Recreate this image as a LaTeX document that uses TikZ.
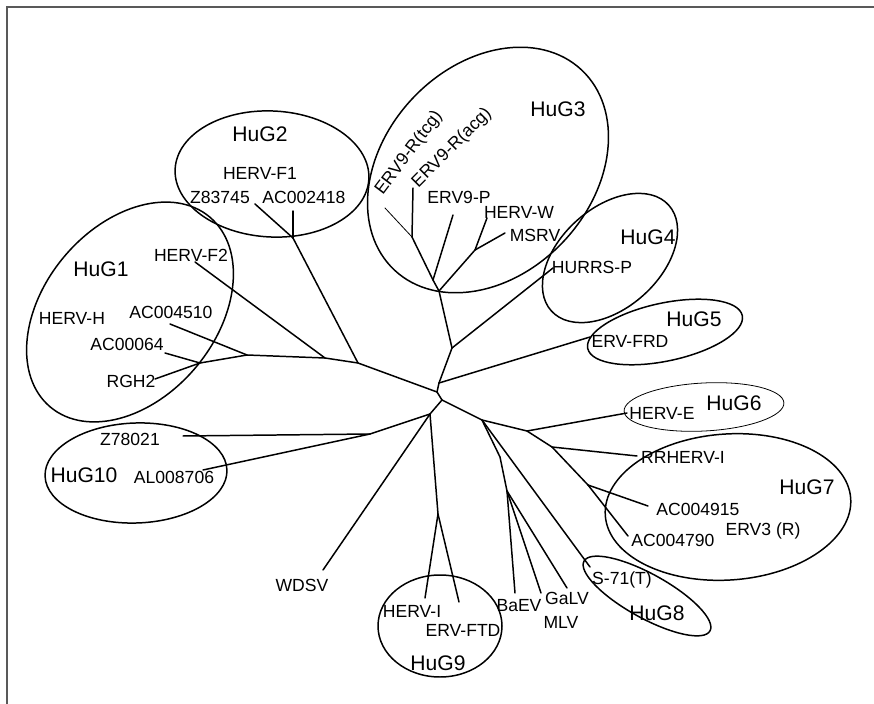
\documentclass[tikz,border=0pt]{standalone}
\usepackage{fontspec}
\setmainfont{Liberation Sans}
\usepackage{tikz}

\begin{document}
\begin{tikzpicture}[x=0.2mm,y=-0.2mm,line width=0.85pt,line cap=round,
  lbl/.style={inner sep=0pt,font=\fontsize{10}{12}\selectfont},
  hug/.style={inner sep=0pt,font=\fontsize{12}{14}\selectfont}]
\useasboundingbox (0,0) rectangle (874,704);
\draw[black!65,line width=1.1pt,line cap=butt] (7,704)--(7,7)--(874,7);
\foreach \n/\x/\y in {c/437/392,cd/442/400,jfrd/439/383,jhurrs/452/348,jg3/439/291,
  jp/433/280,jr/412/237,tcg/385/208,acg/413/188,erv9p/453/215,jw/475/250,
  hervw/487/218,msrv/505/233,hurrs/553/268,frd/590/337,
  j3/358/363,jf1/293/238,z83745/255/204,ac002418/293/211,j2/325/358,f2/195/262,
  j1/247/355,ac004510/170/324,j0/200/363,ac00064/165/353,rgh2/155/379,
  jl/430/414,jz/370/434,z78021/183/436,al/203/470,wdsv/323/570,jg9/438/514,
  hervi/425/598,ftd/459/602,
  jr2/482/420,je/527/431,herve/627/413,jrr/552/447,rrherv/637/456,j915/588/485,
  ac004915/648/506,ac004790/628/536,jb/500/457,jb2/507/491,baev/515/593,
  galv/541/593,mlv/567/588,s71/590/567}
  \coordinate (\n) at (\x,\y);
\foreach \a/\b in {c/cd,c/jfrd,jfrd/frd,jfrd/jhurrs,jhurrs/hurrs,jhurrs/jg3,
  jg3/jp,jp/jr,jr/acg,jp/erv9p,jg3/jw,jw/hervw,jw/msrv,
  c/j3,j3/jf1,jf1/z83745,jf1/ac002418,j3/j2,j2/f2,j2/j1,j1/ac004510,j1/j0,
  j0/ac00064,j0/rgh2,
  cd/jl,jl/jz,jz/z78021,jz/al,jl/wdsv,jl/jg9,jg9/hervi,jg9/ftd,
  cd/jr2,jr2/je,je/herve,je/jrr,jrr/rrherv,jrr/j915,j915/ac004915,j915/ac004790,
  jr2/jb,jb/jb2,jb2/baev,jb2/galv,jb2/mlv,jr2/s71}
  \draw (\a)--(\b);
\draw[line width=0.45pt] (jr)--(tcg);

\draw[rotate around={50:(130,312)}] (130,312) ellipse [x radius=124,y radius=86];
\draw[rotate around={-3:(272,174)}] (272,174) ellipse [x radius=97,y radius=63];
\draw[rotate around={47:(488,170)}] (488,170) ellipse [x radius=137,y radius=104];
\draw[rotate around={42:(610,258)}] (610,258) ellipse [x radius=79,y radius=50];
\draw[rotate around={12:(665,332)}] (665,332) ellipse [x radius=79,y radius=29];
\draw[line width=0.45pt,rotate around={3:(704,407)}] (704,407) ellipse [x radius=80,y radius=24];
\draw[rotate around={4:(728,507)}] (728,507) ellipse [x radius=123,y radius=73];
\draw[rotate around={-29:(647,596)}] (647,596) ellipse [x radius=72,y radius=22];
\draw (440,626) ellipse [x radius=62,y radius=51];
\draw[rotate around={2:(136,473)}] (136,473) ellipse [x radius=91,y radius=50];

\node[hug] (g1) at (101,269) {HuG1};
\node[hug] (g2) at (260,134) {HuG2};
\node[hug] (g3) at (558,109) {HuG3};
\node[hug] (g4) at (648,237) {HuG4};
\node[hug] (g5) at (694,319) {HuG5};
\node[hug] (g6) at (734,403) {HuG6};
\node[hug] (g7) at (807,487) {HuG7};
\node[hug] (g8) at (657,613) {HuG8};
\node[hug] (g9) at (438,663) {HuG9};
\node[hug] (g10) at (84,475) {HuG10};

\node[lbl] (l-f1) at (260,173) {HERV-F1};
\node[lbl] (l-z83745) at (220,197) {Z83745};
\node[lbl] (l-ac002418) at (304,197) {AC002418};
\node[lbl] (l-f2) at (191,255) {HERV-F2};
\node[lbl] (l-h) at (72,318) {HERV-H};
\node[lbl] (l-ac004510) at (171,312) {AC004510};
\node[lbl] (l-ac00064) at (127,344) {AC00064};
\node[lbl] (l-rgh2) at (131,381) {RGH2};
\node[lbl] (l-z78021) at (130,439) {Z78021};
\node[lbl] (l-al) at (174,477) {AL008706};
\node[lbl] (l-wdsv) at (302,585) {WDSV};
\node[lbl] (l-hervi) at (412,611) {HERV-I};
\node[lbl] (l-ftd) at (463,630) {ERV-FTD};
\node[lbl] (l-baev) at (519,606) {BaEV};
\node[lbl] (l-galv) at (567,598) {GaLV};
\node[lbl] (l-mlv) at (561,622) {MLV};
\node[lbl] (l-s71) at (622,580) {S-71(T)};
\node[lbl] (l-ac004790) at (673,540) {AC004790};
\node[lbl] (l-erv3) at (763,531) {ERV3 (R)};
\node[lbl] (l-ac004915) at (698,509) {AC004915};
\node[lbl] (l-rrherv) at (683,457) {RRHERV-I};
\node[lbl] (l-herve) at (662,413) {HERV-E};
\node[lbl] (l-frd) at (630,341) {ERV-FRD};
\node[lbl] (l-hurrs) at (592,267) {HURRS-P};
\node[lbl] (l-msrv) at (535,235) {MSRV};
\node[lbl] (l-hervw) at (519,212) {HERV-W};
\node[lbl] (l-erv9p) at (459,197) {ERV9-P};
\node[lbl,rotate=53] (l-tcg) at (409,153) {ERV9-R(tcg)};
\node[lbl,rotate=45] (l-acg) at (452,148) {ERV9-R(acg)};
\end{tikzpicture}
\end{document}
